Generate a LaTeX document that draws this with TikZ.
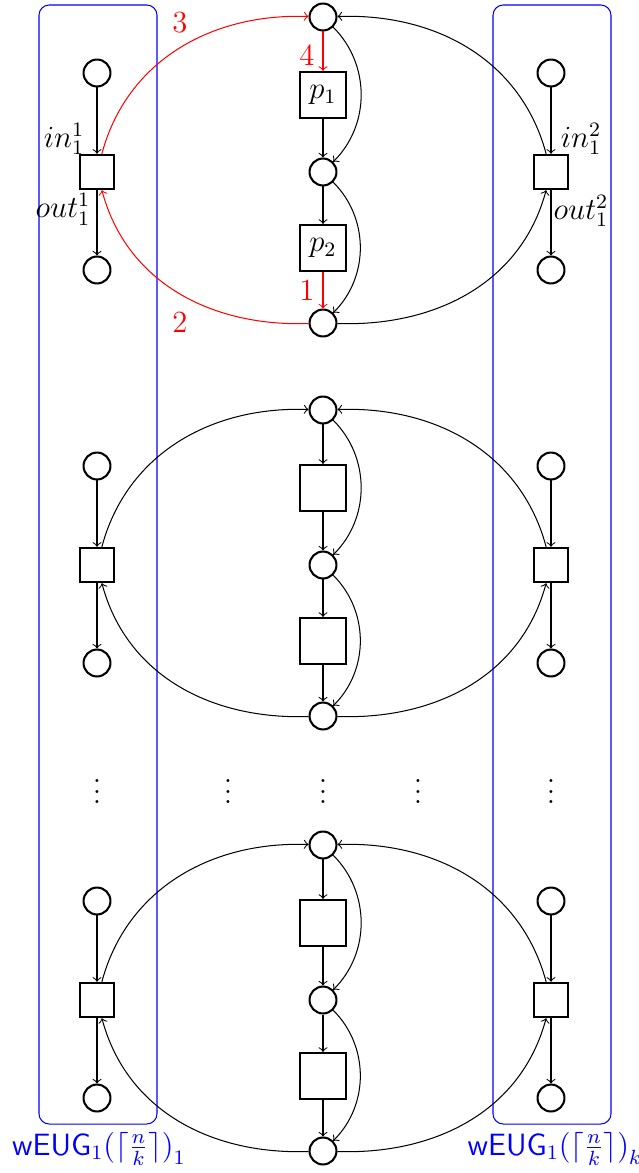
\documentclass[tikz,border=0pt]{standalone}
\usetikzlibrary{arrows}
\begin{document}
\begin{tikzpicture}[x=0.39pt,y=-0.39pt,
  every node/.style={font=\large},
  place/.style={circle,draw,thick,minimum size=10.5pt,inner sep=0pt},
  trans/.style={rectangle,draw,thick,minimum size=13.4pt,inner sep=0pt},
  ptrans/.style={rectangle,draw,thick,minimum size=18pt,inner sep=0pt},
  flow/.style={->},
  group/.style={draw=blue,rounded corners=4pt},
  step label/.style={text=red},
  port label/.style={inner sep=0pt}]
\useasboundingbox (0,0) rectangle (638,1173);

% component boxes
\draw[group] (39,5) rectangle (157,1124);
\draw[group] (493,5) rectangle (611,1124);
\node[text=blue] (grp1) at (99,1149)
  {$\mathsf{wEUG}_1\bigl(\bigl\lceil\frac{n}{k}\bigr\rceil\bigr)_1$};
\node[text=blue] (grpk) at (555,1149)
  {$\mathsf{wEUG}_1\bigl(\bigl\lceil\frac{n}{k}\bigr\rceil\bigr)_k$};

% three copies of the cycle
\foreach \b/\y/\c/\pa/\pb in {a/17/red/$p_1$/$p_2$, b/410/black/{}/{}, c/845/black/{}/{}}{
  \node[place]  (\b-t)  at (323,{\y})     {};
  \node[ptrans] (\b-p1) at (323,{\y+78})  {\pa};
  \node[place]  (\b-m)  at (323,{\y+155}) {};
  \node[ptrans] (\b-p2) at (323,{\y+231}) {\pb};
  \node[place]  (\b-b)  at (323,{\y+306}) {};

  \node[place] (\b-li) at (97,{\y+56})  {};
  \node[trans] (\b-ls) at (97,{\y+155}) {};
  \node[place] (\b-lo) at (97,{\y+253}) {};

  \node[place] (\b-ri) at (551,{\y+56})  {};
  \node[trans] (\b-rs) at (551,{\y+155}) {};
  \node[place] (\b-ro) at (551,{\y+253}) {};

  \draw[flow,\c] (\b-t) -- (\b-p1);
  \draw[flow] (\b-p1) -- (\b-m);
  \draw[flow] (\b-m) -- (\b-p2);
  \draw[flow,\c] (\b-p2) -- (\b-b);
  \draw[flow] (\b-t) to[bend left=45] (\b-m);
  \draw[flow] (\b-m) to[bend left=45] (\b-b);

  \draw[flow] (\b-li) -- (\b-ls);
  \draw[flow] (\b-ls) -- (\b-lo);
  \draw[flow] (\b-ri) -- (\b-rs);
  \draw[flow] (\b-rs) -- (\b-ro);

  \draw[flow,\c] (\b-ls) to[out=75,in=178] (\b-t);
  \draw[flow,\c] (\b-b) to[out=182,in=-75] (\b-ls);
  \draw[flow] (\b-rs) to[out=105,in=2] (\b-t);
  \draw[flow] (\b-b) to[out=-2,in=-105] (\b-rs);
}

% order of the steps
\node[step label] (s3) at (180,23)  {3};
\node[step label] (s4) at (307,55)  {4};
\node[step label] (s2) at (180,322) {2};
\node[step label] (s1) at (307,290) {1};

% interface labels
\node[port label] (in1)  at (64,139)  {$in_1^1$};
\node[port label] (out1) at (63,209)  {$out_1^1$};
\node[port label] (in2)  at (581,139) {$in_1^2$};
\node[port label] (out2) at (581,211) {$out_1^2$};

% omitted copies
\foreach \x [count=\i] in {97,228,323,418,551}
  \node (dots\i) at (\x,784) {$\vdots$};
\end{tikzpicture}
\end{document}
